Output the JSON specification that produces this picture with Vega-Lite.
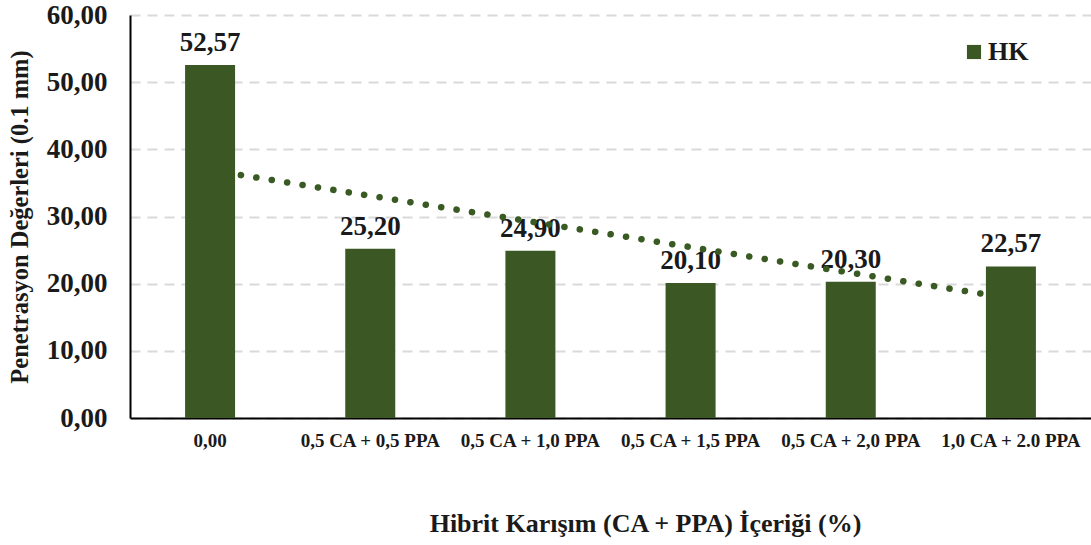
{
  "$schema": "https://vega.github.io/schema/vega-lite/v6.json",
  "width": 961,
  "height": 403,
  "autosize": {"type": "none"},
  "padding": {"left": 130, "top": 15, "right": 0, "bottom": 127},
  "datasets": {
    "bars": [
      {"cat": "0,00", "value": 52.57, "series": "HK"},
      {"cat": "0,5 CA + 0,5 PPA", "value": 25.20, "series": "HK"},
      {"cat": "0,5 CA + 1,0 PPA", "value": 24.90, "series": "HK"},
      {"cat": "0,5 CA + 1,5 PPA", "value": 20.10, "series": "HK"},
      {"cat": "0,5 CA + 2,0 PPA", "value": 20.30, "series": "HK"},
      {"cat": "1,0 CA + 2.0 PPA", "value": 22.57, "series": "HK"}
    ],
    "trend": [
      {"cat": "0,00", "value": 36.9},
      {"cat": "1,0 CA + 2.0 PPA", "value": 17.8}
    ]
  },
  "encoding": {
    "x": {
      "field": "cat",
      "type": "nominal",
      "sort": null,
      "scale": {"domain": ["0,00", "0,5 CA + 0,5 PPA", "0,5 CA + 1,0 PPA", "0,5 CA + 1,5 PPA", "0,5 CA + 2,0 PPA", "1,0 CA + 2.0 PPA"], "paddingInner": 0.69, "paddingOuter": 0.345},
      "axis": {
        "title": "Hibrit Karışım (CA + PPA) İçeriği (%)",
        "labelAngle": 0,
        "labelFont": "Liberation Serif",
        "labelFontSize": 19,
        "labelFontWeight": "bold",
        "labelColor": "#1a1a1a",
        "labelPadding": 13,
        "titleFont": "Liberation Serif",
        "titleFontSize": 26,
        "titleFontWeight": "bold",
        "titleColor": "#1a1a1a",
        "titlePadding": 60,
        "titleX": 515,
        "domainColor": "#000000",
        "domainWidth": 2,
        "ticks": false,
        "grid": false
      }
    },
    "y": {
      "field": "value",
      "type": "quantitative",
      "scale": {"domain": [0, 60], "nice": false},
      "axis": {
        "title": "Penetrasyon Değerleri (0.1 mm)",
        "values": [0, 10, 20, 30, 40, 50, 60],
        "format": ".2f",
        "labelFont": "Liberation Serif",
        "labelFontSize": 27,
        "labelFontWeight": "bold",
        "labelColor": "#1a1a1a",
        "labelPadding": 23,
        "ticks": false,
        "titleFont": "Liberation Serif",
        "titleFontSize": 24.5,
        "titleFontWeight": "bold",
        "titleColor": "#1a1a1a",
        "titlePadding": 14,
        "domainColor": "#000000",
        "domainWidth": 2,
        "grid": true,
        "gridColor": "#d9d9d9",
        "gridWidth": 2,
        "gridDash": [10, 7]
      }
    }
  },
  "layer": [
    {
      "data": {"name": "bars"},
      "mark": {"type": "text", "baseline": "alphabetic", "dy": -14, "font": "Liberation Serif", "fontSize": 27, "fontWeight": "bold", "color": "#1a1a1a"},
      "encoding": {"text": {"field": "value", "type": "quantitative", "format": ".2f"}}
    },
    {
      "data": {"name": "trend"},
      "mark": {"type": "line", "color": "#3a5a24", "strokeWidth": 6.5, "strokeCap": "round", "strokeDash": [0.1, 15.5]},
      "encoding": {}
    },
    {
      "data": {"name": "bars"},
      "mark": {"type": "bar", "size": 50},
      "encoding": {
        "color": {
          "field": "series",
          "type": "nominal",
          "scale": {"range": ["#3a5724"]},
          "legend": {
            "title": null,
            "orient": "none",
            "legendX": 831,
            "legendY": 24,
            "symbolType": "square",
            "symbolSize": 200,
            "symbolStrokeWidth": 0,
            "labelFont": "Liberation Serif",
            "labelFontSize": 26,
            "labelFontWeight": "bold",
            "labelColor": "#1a1a1a",
            "labelOffset": 1
          }
        }
      }
    },
    {
      "mark": {"type": "rule", "color": "#000000", "strokeWidth": 2},
      "encoding": {"y": {"datum": 60}, "x": null}
    }
  ],
  "config": {
    "view": {"stroke": null},
    "locale": {"number": {"decimal": ",", "thousands": ".", "grouping": [3], "currency": ["", ""]}}
  }
}
